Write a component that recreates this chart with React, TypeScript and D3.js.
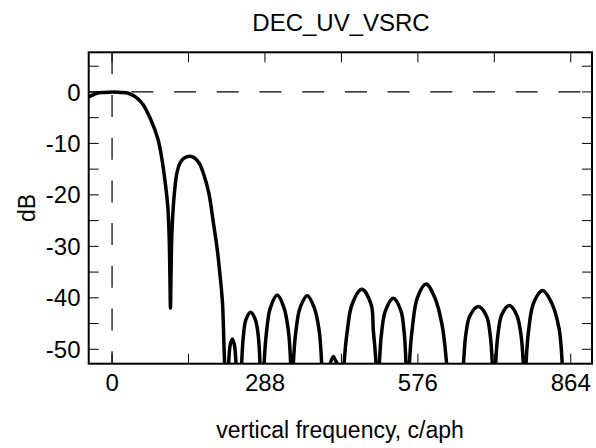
import React from "react";
import * as d3 from "d3";

const title = "DEC_UV_VSRC";
const xLabel = "vertical frequency, c/aph";
const yLabel = "dB";
const xTickValues = [0, 288, 576, 864];
const xMinorTicks = [0, 144, 288, 432, 576, 720, 864];
const yTickValues = [0, -10, -20, -30, -40, -50];
const yMinorTicks = [5, 0, -5, -10, -15, -20, -25, -30, -35, -40, -45, -50];

// frequency (c/aph)
const freq = [
  -46, -30, -15, 0, 15, 32, 46, 58, 73, 86, 93, 100, 105, 107.5, 109, 110,
  111, 112.5, 115.5, 119, 122, 128, 135, 145, 155, 165, 172, 182, 191, 198, 203, 208, 211, 213, 216,
  219.5, 222.5, 226.5, 230.5, 233.5, 239,
  244, 247.3, 252, 261, 270, 275.5, 278.7, 282.5,
  286.3, 291.3, 298, 311.3, 324, 332, 336.5, 339,
  341.4, 346.5, 354, 367.8, 381, 390, 394.9, 402,
  410.5, 413.5, 416.8, 420, 424.3, 430,
  436.9, 443.2, 452, 470.2, 488, 492.1, 497.2, 500,
  503.4, 508, 515, 529.8, 544, 550, 553.7, 557,
  560, 566, 575, 591.3, 608, 622, 630.3, 645,
  661.7, 666.5, 674, 689.9, 705, 712, 716.2, 719,
  722.5, 727, 734, 748.3, 762, 770, 774.6, 777,
  779.7, 785, 794, 811.1, 828, 842, 848, 855, 904,
];
// magnitude (dB)
const magnitude = [
  -1.1, -0.3, -0.1, 0, -0.1, -0.3, -1.1, -2.4, -5.4, -9.0, -12.5, -17.5, -22.3, -28, -36, -42,
  -36, -28, -22, -18, -15.8, -13.8, -12.9, -12.5, -12.8, -14, -15.8, -19.5, -25.5, -30.5, -35.2, -41, -50, -56, -75,
  -53, -49.2, -48, -49.2, -53, -75,
  -53, -47.5, -44.3, -42.8, -44.3, -47.5, -53, -75,
  -53, -46.3, -42, -39.45, -42, -46.3, -53, -75,
  -53, -46.3, -42, -39.6, -42, -46.3, -53, -75,
  -53, -52, -51.4, -52, -53, -75,
  -53, -46.3, -41.3, -38.35, -41.3, -46.3, -53, -75,
  -53, -46.5, -42.5, -40.1, -42.5, -46.5, -53, -75,
  -53, -45.5, -40, -37.3, -40, -45.5, -53, -75,
  -53, -47, -43.5, -41.7, -43.5, -47, -53, -75,
  -53, -47, -43.3, -41.5, -43.3, -47, -53, -75,
  -53, -46, -41, -38.6, -41, -46, -53, -75, -75,
];

const W = 596;
const H = 448;
const left = 88.7;
const right = 592;
const top = 52.3;
const bottom = 363.7;
const FONT = "'Liberation Sans', Arial, sans-serif";

export default function App() {
  const x = d3.scaleLinear().domain([-44, 904]).range([left, right]);
  const y = d3.scaleLinear().domain([7.7, -52.8]).range([top, bottom]);
  const pts: [number, number][] = freq.map((f, i) => [f, magnitude[i]]);
  const line = d3
    .line<[number, number]>()
    .x((d) => x(d[0]))
    .y((d) => y(d[1]))
    .curve(d3.curveCatmullRom.alpha(0.5));
  const tickLen = 10;
  return (
    <svg width={W} height={H} style={{ display: "block", position: "absolute", left: 0, top: 0 }}>
      <rect x={0} y={0} width={W} height={H} fill="#fff" />
      <defs>
        <clipPath id="plotClip">
          <rect x={left} y={top} width={right - left} height={bottom - top} />
        </clipPath>
      </defs>
      <line x1={left} x2={right} y1={y(0)} y2={y(0)} stroke="#000" strokeWidth={1.2} strokeDasharray="22,20.7" />
      <line x1={x(0)} x2={x(0)} y1={top} y2={bottom} stroke="#000" strokeWidth={1.2} strokeDasharray="22,20.7" />
      <g clipPath="url(#plotClip)">
        <path d={line(pts) || ""} fill="none" stroke="#000" strokeWidth={3.5} strokeLinejoin="round" strokeLinecap="round" />
      </g>
      {xMinorTicks.map((t) => (
        <g key={"xt" + t}>
          <line x1={x(t)} x2={x(t)} y1={bottom} y2={bottom - tickLen} stroke="#000" strokeWidth={1} />
          <line x1={x(t)} x2={x(t)} y1={top} y2={top + tickLen} stroke="#000" strokeWidth={1} />
        </g>
      ))}
      {yMinorTicks.map((t) => (
        <g key={"yt" + t}>
          <line x1={left} x2={left + tickLen} y1={y(t)} y2={y(t)} stroke="#000" strokeWidth={1} />
          <line x1={right} x2={right - tickLen} y1={y(t)} y2={y(t)} stroke="#000" strokeWidth={1} />
        </g>
      ))}
      <rect x={left} y={top} width={right - left} height={bottom - top} fill="none" stroke="#000" strokeWidth={2} />
      {xTickValues.map((t) => (
        <text key={"xl" + t} x={x(t)} y={390.5} textAnchor="middle" fontFamily={FONT} fontSize={24}>
          {t}
        </text>
      ))}
      {yTickValues.map((t) => (
        <text key={"yl" + t} x={80.5} y={y(t) + 8.6} textAnchor="end" fontFamily={FONT} fontSize={24}>
          {t}
        </text>
      ))}
      <text x={341} y={31} textAnchor="middle" fontFamily={FONT} fontSize={24}>
        {title}
      </text>
      <text x={340} y={438} textAnchor="middle" fontFamily={FONT} fontSize={23}>
        {xLabel}
      </text>
      <text transform={`translate(35, ${(top + bottom) / 2}) rotate(-90)`} textAnchor="middle" fontFamily={FONT} fontSize={23}>
        {yLabel}
      </text>
    </svg>
  );
}
